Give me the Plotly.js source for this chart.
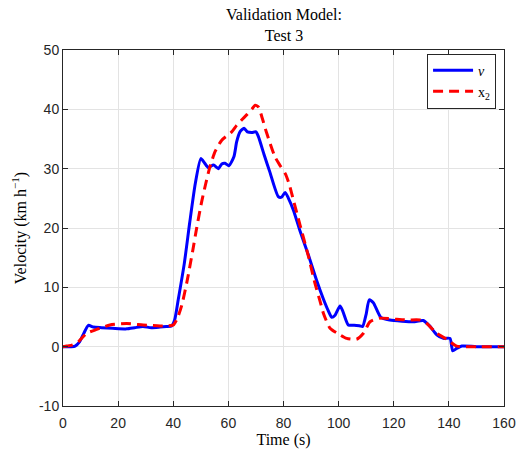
<!DOCTYPE html>
<html>
<head>
<meta charset="utf-8">
<script src="https://cdn.plot.ly/plotly-3.0.1.min.js"></script>
<style>html,body{margin:0;padding:0;background:#fff;}#chart{width:518px;height:459px;}</style>
</head>
<body>
<div id="chart"></div>
<script>
const timeV = [0, 3, 4.4, 6, 7.5, 9.2, 11, 14, 18, 23.1, 26, 29, 32, 35.2, 37.5, 39.4, 40.5, 41.8, 44, 46, 48, 50, 51.3, 52.7, 54.6, 56.4, 57.6, 58.8, 60.2, 62, 63, 64.2, 65.7, 66.9, 68.5, 70, 70.9, 73, 75, 78.1, 79.3, 80.6, 81.8, 83.6, 86, 89, 92, 94.5, 96.3, 97.5, 98.7, 100.5, 101.5, 103.5, 105.5, 107.8, 108.7, 110, 111.1, 112.6, 115.3, 118.6, 123, 127.1, 130.7, 133, 135.6, 138, 140.4, 141.4, 142.8, 144.7, 150, 160];
const velV  = [0, 0, 0.1, 0.8, 2.2, 3.6, 3.3, 3.2, 3.1, 3.0, 3.2, 3.4, 3.2, 3.3, 3.4, 3.5, 4.5, 7.9, 14, 21, 27.5, 31.7, 31.0, 30.2, 30.6, 30.0, 30.8, 30.9, 30.5, 32.0, 34.5, 36.2, 36.8, 36.2, 36.1, 36.2, 35.4, 32.3, 29.5, 25.3, 25.2, 26.0, 25.0, 23.0, 19.5, 15.5, 11.2, 8.0, 6.0, 4.95, 5.3, 6.86, 6.0, 3.66, 3.6, 3.5, 3.4, 5.5, 7.9, 7.4, 4.95, 4.5, 4.3, 4.2, 4.4, 3.5, 2.0, 1.4, 1.4, -0.7, -0.3, 0.1, 0, 0];
const timeX = [0, 1.3, 3.5, 5.6, 8.6, 12.2, 17, 23.1, 29.1, 35.2, 38, 40, 41.5, 43.1, 45, 47, 48.5, 50.3, 51.8, 53.3, 55.2, 57.6, 61.2, 63, 64.8, 66.7, 68.5, 69.7, 70.9, 72.3, 73.9, 76.9, 78.8, 80.6, 82, 83.6, 86, 89, 91.4, 93.3, 94.5, 96.9, 100.5, 102.9, 106.5, 109, 111.4, 115, 121.1, 125, 129.5, 132, 135.6, 139.2, 142.8, 150, 160];
const velX  = [0, 0.1, 0.3, 0.85, 2.25, 2.9, 3.65, 3.9, 3.65, 3.5, 3.5, 3.65, 4.8, 7.0, 11, 16, 20, 24.4, 27.5, 30.3, 32.9, 34.8, 36.2, 37.3, 38.2, 39.1, 40.0, 40.7, 40.4, 38.5, 36.0, 32.0, 30.5, 29.2, 27.5, 24.7, 20.5, 15.3, 10.7, 7.6, 5.6, 3.1, 2.0, 1.4, 1.25, 2.25, 4.2, 4.8, 4.6, 4.5, 4.5, 3.9, 2.25, 1.25, 0.1, 0, 0];
const seriesNames = ['<i>v</i>', 'x<sub>2</sub>'];
const xTicks = [0, 20, 40, 60, 80, 100, 120, 140, 160];
const yTicks = [-10, 0, 10, 20, 30, 40, 50];
const yTickLabels = ['-10', '0', '10', '20', '30', '40', '50'];
const titleText = 'Validation Model:<br>Test 3';

const serif = 'Liberation Serif, Times New Roman, serif';
const sans = 'Liberation Sans, Arial, sans-serif';

const traces = [
  {x: timeV, y: velV, name: seriesNames[0], type: 'scatter', mode: 'lines',
   line: {color: '#0000ff', width: 3, shape: 'spline', smoothing: 0.6}},
  {x: timeX, y: velX, name: seriesNames[1], type: 'scatter', mode: 'lines',
   line: {color: '#ff0000', width: 3, dash: '10px,6px', shape: 'spline', smoothing: 0.6}}
];

const axisCommon = {
  showline: true, linecolor: '#262626', linewidth: 1, mirror: 'ticks',
  ticks: 'inside', ticklen: 5, tickcolor: '#262626',
  showgrid: true, gridcolor: '#e3e3e3', gridwidth: 1, zeroline: false,
  tickfont: {family: sans, size: 14, color: '#262626'}
};

const layout = {
  width: 518, height: 459,
  margin: {l: 63, r: 14, t: 50, b: 53},
  paper_bgcolor: '#ffffff', plot_bgcolor: '#ffffff',
  annotations: [{text: titleText, showarrow: false, xref: 'paper', yref: 'paper',
    x: 0.5, xanchor: 'center', y: 1.012, yanchor: 'bottom',
    font: {family: serif, size: 16, color: '#000'}}],
  xaxis: Object.assign({}, axisCommon, {range: [0, 160], tickvals: xTicks, ticklabelstandoff: 4,
    title: {text: 'Time (s)', font: {family: serif, size: 16, color: '#000'}, standoff: 2}}),
  yaxis: Object.assign({}, axisCommon, {range: [-10, 50], tickvals: yTicks, ticktext: yTickLabels,
    title: {text: 'Velocity (km h<sup>\u22121</sup>)', font: {family: serif, size: 16, color: '#000'}, standoff: 8}}),
  showlegend: true,
  legend: {x: 0.982, xanchor: 'right', y: 0.99, yanchor: 'top', bgcolor: '#ffffff',
           bordercolor: '#262626', borderwidth: 1, font: {family: serif, size: 14, color: '#000'},
           tracegroupgap: 0, itemwidth: 40}
};

Plotly.newPlot('chart', traces, layout, {displayModeBar: false, staticPlot: true});
</script>
</body>
</html>
